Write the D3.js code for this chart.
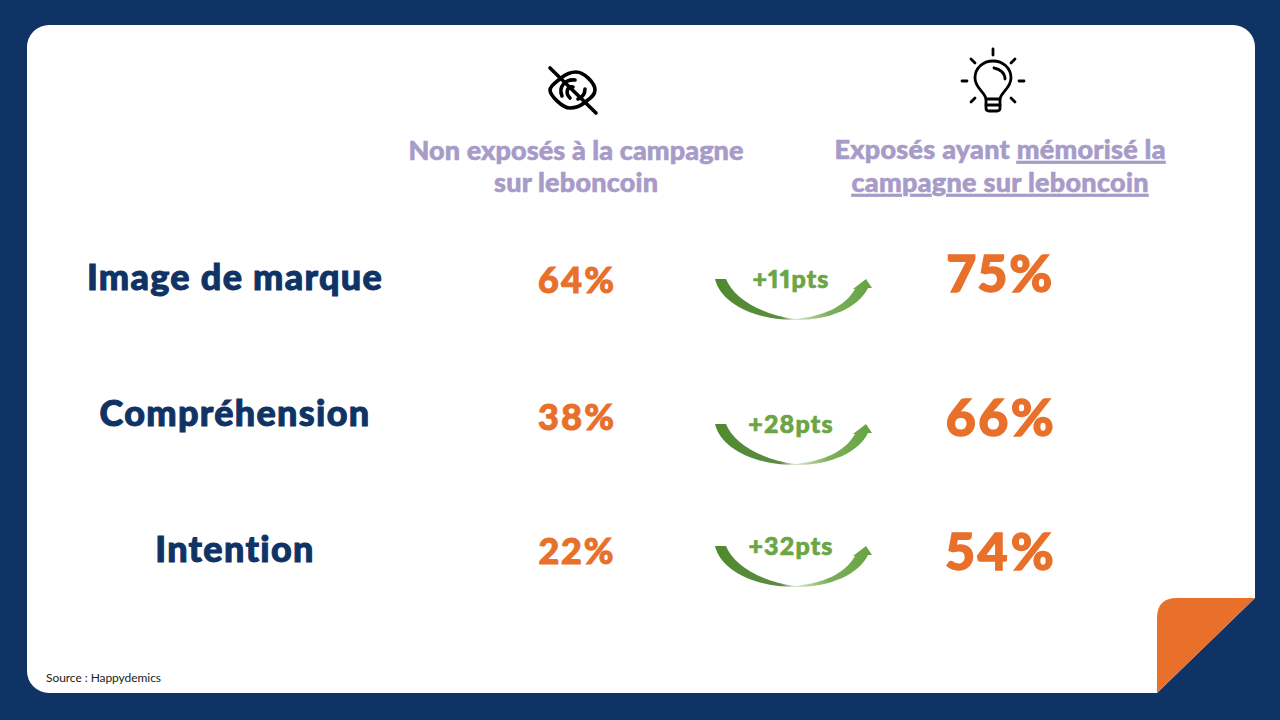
<!DOCTYPE html>
<html>
<head>
<meta charset="utf-8">
<script src="https://cdn.jsdelivr.net/npm/d3@7"></script>
<style>
  html, body { margin: 0; padding: 0; background: #103365; }
  svg { display: block; }
  text { font-family: Lato, sans-serif; font-variant-numeric: proportional-nums; }
</style>
</head>
<body>
<div id="container"></div>
<script>
/* DATA */
const rows = ["Image de marque", "Compréhension", "Intention"];
const nonExposed = [64, 38, 22];
const exposed = [75, 66, 54];
const gains = [11, 28, 32];
const source = "Source : Happydemics";

const width = 1280, height = 720;
const navy = "#103365", orange = "#E8702A", purple = "#A79BC8", green = "#6BA545";

const svg = d3.select("#container")
    .append("svg")
    .attr("width", width)
    .attr("height", height);

// SCALES
const rowY = d3.scalePoint().domain(rows).range([290, 562]);
const beforeY = d3.scaleOrdinal().domain(rows).range([293, 430, 564]);
const afterY = d3.scaleOrdinal().domain(rows).range([292, 436, 570]);
const gainY = d3.scaleOrdinal().domain(rows).range([279, 424, 546]);
const col = d3.scaleOrdinal()
    .domain(["label", "before", "gain", "after"])
    .range([235, 576, 793, 1000]);

// CARD
svg.append("rect")
    .attr("x", 27).attr("y", 25)
    .attr("width", 1228).attr("height", 668)
    .attr("rx", 22)
    .attr("fill", "white");

// square off the bottom right corner, then the folded orange corner
svg.append("path")
    .attr("d", "M1157,693 L1255,598 L1255,693 L1262,700 L1157,700 Z")
    .attr("fill", navy);
svg.append("path")
    .attr("d", "M1157,693 L1157,618 Q1157,598 1177,598 L1255,598 Z")
    .attr("fill", orange);

// ICONS
const eye = svg.append("g")
    .attr("transform", "translate(573,90)")
    .attr("fill", "none")
    .attr("stroke", "black")
    .attr("stroke-width", 3.6)
    .attr("stroke-linecap", "round")
    .attr("stroke-linejoin", "round");
eye.append("path").attr("d", "M-23,0 C-23,-4 -17,-8 -12,-12 C-7,-16 -3,-18 3,-18 C11,-18 22,-7 22,0 C22,6 16,9 11,13 C6,17 2,18 -3,18 C-11,18 -23,5 -23,0 Z");
eye.append("path").attr("d", "M-11,6 C-15,-4 -7,-11 2,-10");
eye.append("path").attr("d", "M5,9 C10,7 12,3 12,-1");
eye.append("path").attr("d", "M-3,8 C-8,3 -6,-4 0,-3");
eye.append("line").attr("x1", -23).attr("y1", -22).attr("x2", 23).attr("y2", 23);

const bulb = svg.append("g")
    .attr("transform", "translate(993,81)")
    .attr("fill", "none")
    .attr("stroke", "black")
    .attr("stroke-width", 2.8)
    .attr("stroke-linecap", "round")
    .attr("stroke-linejoin", "round");
bulb.append("path").attr("d", "M-7,18 C-8,11 -18,7 -18,-3 C-18,-13 -10,-20 0,-20 C10,-20 18,-13 18,-3 C18,7 8,11 7,18 Z");
bulb.append("path").attr("d", "M-7,18 L-7,27 Q-7,30 -4,30 L4,30 Q7,30 7,27 L7,18");
bulb.append("line").attr("x1", -7).attr("y1", 24).attr("x2", 7).attr("y2", 24);
bulb.append("path").attr("d", "M1,-13 C7,-12 12,-8 12,-2");
[
    [0, -32, 0, -26], [-22, -22, -18, -18], [22, -22, 18, -18],
    [-31, 0, -26, 0], [31, 0, 26, 0], [-22, 21, -18, 17], [22, 21, 18, 17]
].forEach(d => {
    bulb.append("line").attr("x1", d[0]).attr("y1", d[1]).attr("x2", d[2]).attr("y2", d[3]);
});

// COLUMN HEADERS
const headerStyle = sel => sel
    .attr("text-anchor", "middle")
    .attr("font-size", 27)
    .attr("font-weight", 900)
    .attr("fill", purple)
    .attr("stroke", purple)
    .attr("stroke-width", 0.6);

svg.append("text").call(headerStyle)
    .attr("x", col("before")).attr("y", 160).attr("textLength", 335)
    .text("Non exposés à la campagne");
svg.append("text").call(headerStyle)
    .attr("x", col("before")).attr("y", 192).attr("textLength", 164)
    .text("sur leboncoin");

const head2 = svg.append("text").call(headerStyle)
    .attr("x", col("after")).attr("y", 159).attr("textLength", 331);
head2.append("tspan").text("Exposés ayant ");
head2.append("tspan").attr("text-decoration", "underline").text("mémorisé la");
svg.append("text").call(headerStyle)
    .attr("x", col("after")).attr("y", 192).attr("textLength", 297)
    .attr("text-decoration", "underline")
    .text("campagne sur leboncoin");

// ROW LABELS
svg.selectAll("text.row")
    .data(rows)
    .join("text")
    .attr("class", "row")
    .attr("x", col("label"))
    .attr("y", d => rowY(d))
    .attr("text-anchor", "middle")
    .attr("font-size", 36)
    .attr("font-weight", 900)
    .attr("letter-spacing", 1.3)
    .attr("fill", navy)
    .attr("stroke", navy)
    .attr("stroke-width", 1)
    .text(d => d);

// VALUES
svg.selectAll("text.before")
    .data(nonExposed)
    .join("text")
    .attr("class", "before")
    .attr("x", col("before") + 1)
    .attr("y", (d, i) => beforeY(rows[i]))
    .attr("text-anchor", "middle")
    .attr("font-size", 36)
    .attr("font-weight", 900)
    .attr("letter-spacing", 2)
    .attr("fill", orange)
    .attr("stroke", orange)
    .attr("stroke-width", 1)
    .text(d => d + "%");

svg.selectAll("text.after")
    .data(exposed)
    .join("text")
    .attr("class", "after")
    .attr("x", col("after") + 1)
    .attr("y", (d, i) => afterY(rows[i]))
    .attr("text-anchor", "middle")
    .attr("font-size", 52)
    .attr("font-weight", 900)
    .attr("letter-spacing", 2.5)
    .attr("fill", orange)
    .attr("stroke", orange)
    .attr("stroke-width", 1.4)
    .text(d => d + "%");

// ARROWS
const defs = svg.append("defs");
const grad = defs.append("linearGradient")
    .attr("id", "arrowGrad")
    .attr("gradientUnits", "userSpaceOnUse")
    .attr("x1", -78).attr("x2", 79).attr("y1", 0).attr("y2", 0);
grad.append("stop").attr("offset", "0%").attr("stop-color", "#4F8A2C");
grad.append("stop").attr("offset", "42%").attr("stop-color", "#5C8C44");
grad.append("stop").attr("offset", "50%").attr("stop-color", "#DDE3D8");
grad.append("stop").attr("offset", "56%").attr("stop-color", "#C5DAB4");
grad.append("stop").attr("offset", "72%").attr("stop-color", "#7FAF5C");
grad.append("stop").attr("offset", "100%").attr("stop-color", "#65A33F");

const arrows = svg.selectAll("g.gain")
    .data(gains)
    .join("g")
    .attr("class", "gain")
    .attr("transform", (d, i) => `translate(${col("gain")},${gainY(rows[i])})`);

arrows.append("path")
    .attr("fill", "url(#arrowGrad)")
    .attr("d", "M-78,0 L-67,0 C-60,18 -33,36 3,40 C30,37 52,28 62,10 L60,10 L73,0 L79,9 L75,9 C66,28 38,41 3,41 C-40,41 -72,24 -78,0 Z");

arrows.append("text")
    .attr("x", -2)
    .attr("y", 8.5)
    .attr("text-anchor", "middle")
    .attr("font-size", 25)
    .attr("font-weight", 900)
    .attr("letter-spacing", 1.2)
    .attr("fill", green)
    .attr("stroke", green)
    .attr("stroke-width", 0.7)
    .text(d => `+${d}pts`);

// SOURCE
svg.append("text")
    .attr("x", 46).attr("y", 682)
    .attr("font-size", 12)
    .attr("textLength", 115)
    .attr("fill", "#222")
    .text(source);
</script>
</body>
</html>
